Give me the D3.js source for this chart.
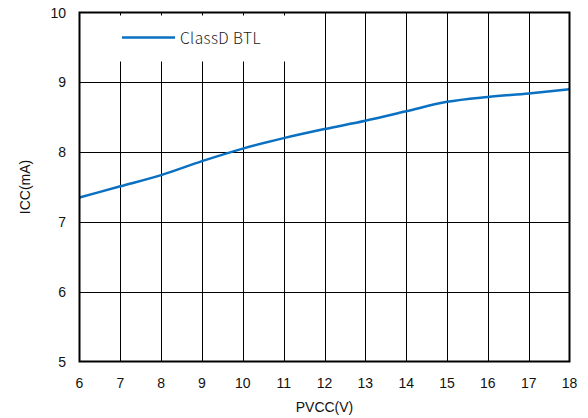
<!DOCTYPE html>
<html><head><meta charset="utf-8">
<script src="https://cdn.jsdelivr.net/npm/d3@7"></script>
<style>body{margin:0;background:#fff}svg{display:block}</style>
</head><body>
<script>
const xVals = [6,7,8,9,10,11,12,13,14,15,16,17,18];
const icc   = [7.35,7.51,7.67,7.87,8.05,8.20,8.33,8.45,8.585,8.72,8.79,8.84,8.90];
const xTicks = [6,7,8,9,10,11,12,13,14,15,16,17,18];
const yTicks = [5,6,7,8,9,10];
const seriesName = "ClassD BTL";
const xLabel = "PVCC(V)", yLabel = "ICC(mA)";

const W=588,H=418, L=79.5, R=569.5, T=12.5, B=361.5;
const svg=d3.select("body").append("svg").attr("width",W).attr("height",H);
const x=d3.scaleLinear().domain([6,18]).range([L,R]);
const y=d3.scaleLinear().domain([5,10]).range([B,T]);
const font="'Liberation Sans', Arial, sans-serif";

// grid
svg.append("g").selectAll("line").data(xTicks.slice(1,-1)).join("line")
  .attr("x1",d=>Math.round(x(d))+0.5).attr("x2",d=>Math.round(x(d))+0.5).attr("y1",T).attr("y2",B)
  .attr("stroke","#000").attr("stroke-width",1);
svg.append("g").selectAll("line").data(yTicks.slice(1,-1)).join("line")
  .attr("y1",d=>Math.round(y(d))+0.5).attr("y2",d=>Math.round(y(d))+0.5).attr("x1",L).attr("x2",R)
  .attr("stroke","#000").attr("stroke-width",1);

// legend box (covers grid)
svg.append("rect").attr("x",L+1).attr("y",T+3).attr("width",222).attr("height",46).attr("fill","#fff");
svg.append("line").attr("x1",122).attr("x2",175).attr("y1",37.5).attr("y2",37.5)
  .attr("stroke","#0a70c2").attr("stroke-width",2.5);
svg.append("text").attr("x",180).attr("y",44).text(seriesName)
  .attr("font-family","'Noto Sans CJK SC','Noto Sans',sans-serif").attr("font-weight",300)
  .attr("font-size",15.5).attr("letter-spacing",0.4).attr("fill","#222");

// curve
svg.append("path").datum(xVals.map((v,i)=>[v,icc[i]]))
  .attr("d",d3.line().x(d=>x(d[0])).y(d=>y(d[1])).curve(d3.curveMonotoneX))
  .attr("fill","none").attr("stroke","#0a70c2").attr("stroke-width",2.5);

// border
svg.append("rect").attr("x",L).attr("y",T).attr("width",R-L).attr("height",B-T)
  .attr("fill","none").attr("stroke","#000").attr("stroke-width",2);

// ticks labels
svg.append("g").selectAll("text").data(xTicks).join("text")
  .attr("x",d=>x(d)).attr("y",388).attr("text-anchor","middle").text(d=>d)
  .attr("font-family",font).attr("font-size",14).attr("fill","#111");
svg.append("g").selectAll("text").data(yTicks).join("text")
  .attr("x",66).attr("y",d=>y(d)+5).attr("text-anchor","end").text(d=>d)
  .attr("font-family",font).attr("font-size",14).attr("fill","#111");

svg.append("text").attr("x",(L+R)/2).attr("y",412).attr("text-anchor","middle").text(xLabel)
  .attr("font-family",font).attr("font-size",14).attr("fill","#111");
svg.append("text").attr("transform",`translate(30,${(T+B)/2}) rotate(-90)`).attr("text-anchor","middle").text(yLabel)
  .attr("font-family",font).attr("font-size",14).attr("fill","#111");
</script>
</body></html>
